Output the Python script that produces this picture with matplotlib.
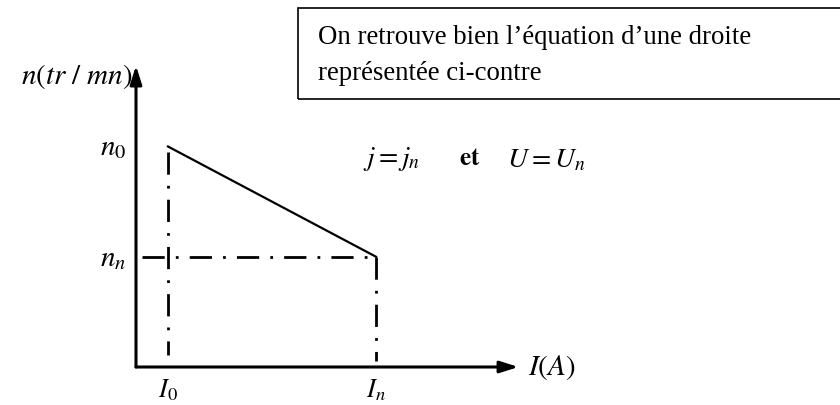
import matplotlib.pyplot as plt
from matplotlib.patches import Rectangle

plt.rcParams['mathtext.fontset'] = 'stix'

# characteristic points of the n(I) line
current = [1.0, 7.5]        # I0, In
speed = [1500.0, 750.0]     # n0, nn
current_ticks = [r'$I_0$', r'$I_n$']
speed_ticks = [r'$n_0$', r'$n_n$']
x_end, y_end = 11.95, 2050.0

fig = plt.figure(figsize=(8.4, 4.06), dpi=100)
ax = fig.add_axes([0, 0, 1, 1])
# 32 px per ampere unit, 0.147 px per rpm unit, origin at (136, 368) px
ax.set_xlim(-136 / 32, (840 - 136) / 32)
ax.set_ylim(-38 / 0.147, (406 - 38) / 0.147)
ax.axis('off')

# axes with arrow heads
arrow = dict(arrowstyle='-|>,head_length=1.1,head_width=0.35', color='black', lw=2.2,
             shrinkA=0, shrinkB=0)
ax.annotate('', xy=(x_end, 0), xytext=(0, 0), arrowprops=arrow)
ax.annotate('', xy=(0, y_end), xytext=(0, 0), arrowprops=arrow)

# the characteristic
ax.plot(current, speed, color='black', lw=1.6)

# construction lines
dd = dict(color='black', lw=2.0, linestyle=(0, (8, 4, 1, 4)))
ax.plot([current[0], current[0]], [speed[0] - 40, 80], **dd)
ax.plot([current[1], current[1]], [speed[1], 40], **dd)
ax.plot([0.2, current[1]], [speed[1], speed[1]], **dd)

# labels
fs = 21
ax.text(-0.3, speed[0], speed_ticks[0], ha='right', va='center', fontsize=fs)
ax.text(-0.3, speed[1], speed_ticks[1], ha='right', va='center', fontsize=fs)
ax.text(current[0], -65, current_ticks[0], ha='center', va='top', fontsize=fs - 2)
ax.text(current[1], -65, current_ticks[1], ha='center', va='top', fontsize=fs - 2)
ax.text(-0.1, y_end - 70, r'$n(tr\ /\ mn)$', ha='right', va='center', fontsize=fs)
ax.text(x_end + 0.3, 0, r'$I(A)$', ha='left', va='center', fontsize=fs)
ax.text(7.1, 1420, r'$j = j_n$', ha='left', va='center', fontsize=fs - 1)
ax.text(10.1, 1430, r'$\mathbf{et}$', ha='left', va='center', fontsize=fs - 3)
ax.text(11.6, 1420, r'$U = U_n$', ha='left', va='center', fontsize=fs - 1)

# note box at the top
box = Rectangle((298 / 840, 1 - 100 / 406), 560 / 840, 91 / 406, transform=fig.transFigure,
                fill=False, edgecolor='black', lw=1.2)
fig.patches.append(box)
fig.text(318 / 840, 1 - 38 / 406, "On retrouve bien l\u2019équation d\u2019une droite",
         family='Liberation Serif', fontsize=19.3, va='center')
fig.text(318 / 840, 1 - 74 / 406, "représentée ci-contre",
         family='Liberation Serif', fontsize=19.3, va='center')

fig.savefig('out.png', dpi=100)
